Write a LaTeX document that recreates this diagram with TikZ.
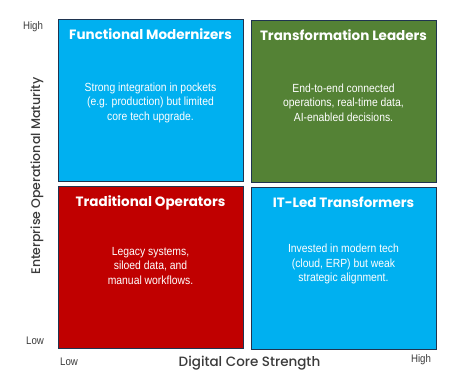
\documentclass[tikz,border=0pt]{standalone}
\usepackage{tikz}
\usetikzlibrary{positioning}
\usepackage{fontspec}
\setmainfont{Liberation Sans}
\newfontfamily\headfont{Poppins}
\newfontfamily\axisfont{Poppins Medium}
\newfontfamily\bodyfont{Liberation Sans}[FakeStretch=0.88]
\definecolor{quadBlue}{HTML}{00B0F0}
\definecolor{quadGreen}{HTML}{548235}
\definecolor{quadRed}{HTML}{C00000}
\definecolor{edgeNavy}{HTML}{1F3450}
\definecolor{axisGray}{HTML}{3A3A3A}

\begin{document}
\begin{tikzpicture}[x=1pt,y=-1pt,
  quad/.style={draw=edgeNavy, line width=0.9pt, minimum width=185pt, minimum height=162pt, inner sep=0pt},
  quadtitle/.style={text=white, font=\headfont\fontsize{13.5}{15}\selectfont\bfseries},
  quadtext/.style={text=white, align=center, font=\bodyfont\fontsize{11.8}{14.5}\selectfont},
  axislabel/.style={text=axisGray, font=\axisfont\fontsize{13.5}{15}\selectfont},
  ticklabel/.style={text=axisGray, font=\bodyfont\fontsize{11}{13}\selectfont}]
  \useasboundingbox (0,0) rectangle (461,385);
  % Quadrants
  \node[quad, fill=quadBlue]  (fm) at (150.5,100.5) {};
  \node[quad, fill=quadGreen] (tl) at (343.5,101.5) {};
  \node[quad, fill=quadRed]   (to) at (150.5,267.5) {};
  \node[quad, fill=quadBlue]  (it) at (343.5,268.5) {};
  % Titles
  \node[quadtitle, below=6pt of fm.north] (fmtitle) {Functional Modernizers};
  \node[quadtitle, below=6pt of tl.north] (tltitle) {Transformation Leaders};
  \node[quadtitle, below=6pt of to.north] (totitle) {Traditional Operators};
  \node[quadtitle, below=6pt of it.north] (ittitle) {IT-Led Transformers};
  % Descriptions
  \node[quadtext, below=36pt of fmtitle] (fmtext) {Strong integration in pockets\\(e.g. production) but limited\\core tech upgrade.};
  \node[quadtext, below=36pt of tltitle] (tltext) {End-to-end connected\\operations, real-time data,\\AI-enabled decisions.};
  \node[quadtext, below=30pt of totitle] (totext) {Legacy systems,\\siloed data, and\\manual workflows.};
  \node[quadtext, below=30pt of ittitle] (ittext) {Invested in modern tech\\(cloud, ERP) but weak\\strategic alignment.};
  % Axes
  \node[ticklabel] (yhigh) at (33,27) {High};
  \node[ticklabel] (ylow) at (35,341) {Low};
  \node[ticklabel] (xlow) at (69,362) {Low};
  \node[ticklabel] (xhigh) at (421,360) {High};
  \node[axislabel] (xaxis) at (249.5,363) {Digital Core Strength};
  \node[axislabel, rotate=90, font=\axisfont\fontsize{12.5}{15}\selectfont] (yaxis) at (37,176) {Enterprise Operational Maturity};
\end{tikzpicture}
\end{document}
